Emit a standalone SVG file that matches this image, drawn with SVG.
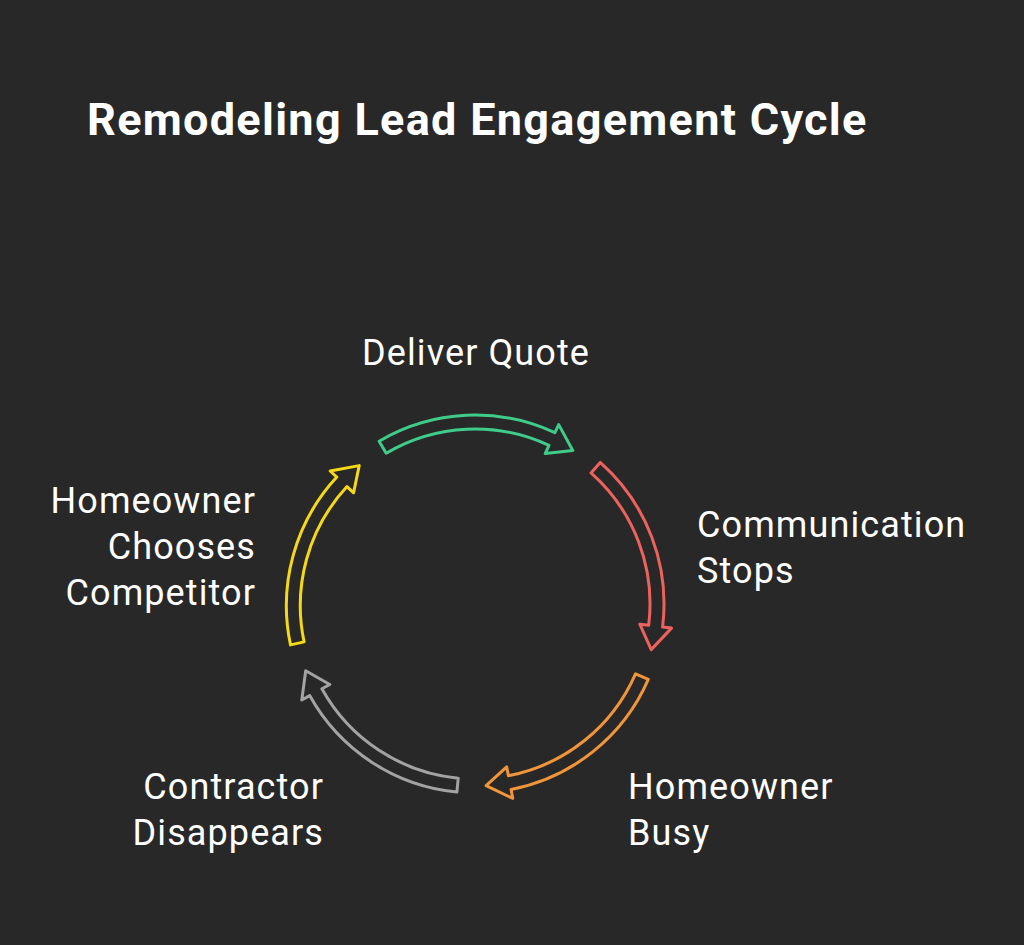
<svg xmlns="http://www.w3.org/2000/svg" width="1024" height="945" viewBox="0 0 1024 945">
<style>
.bg{fill:#282828}
.title{font-family:Roboto,"Liberation Sans",sans-serif;font-weight:700;font-size:45px;letter-spacing:1.3px;fill:#ffffff}
.lbl{font-family:Roboto,"Liberation Sans",sans-serif;font-size:36px;letter-spacing:1.1px;fill:#ffffff}
.arr{fill:none;stroke-width:3;stroke-linejoin:round}
</style>
<rect class="bg" x="0" y="0" width="1024" height="945"/>
<text class="title" x="87" y="135">Remodeling Lead Engagement Cycle</text>
<g id="connectors">
<path id="arrow-green" class="arr" stroke="#3FCC8A" d="M379.1,441.2 A189,189 0 0 1 554.9,432.7 L558.7,424.6 L572.8,450.5 L545.2,453.6 L549.0,445.4 A175,175 0 0 0 386.2,453.2 Z"/>
<path id="arrow-red" class="arr" stroke="#EE625E" d="M600.2,462.4 A189,189 0 0 1 662.6,627.0 L671.5,628.1 L651.2,649.6 L639.8,624.2 L648.7,625.3 A175,175 0 0 0 591.0,472.9 Z"/>
<path id="arrow-orange" class="arr" stroke="#F0953A" d="M648.3,679.4 A189,189 0 0 1 511.1,789.5 L512.8,798.4 L486.1,785.7 L506.7,766.9 L508.4,775.8 A175,175 0 0 0 635.5,673.8 Z"/>
<path id="arrow-gray" class="arr" stroke="#A3A3A3" d="M456.9,792.1 A189,189 0 0 1 309.7,695.6 L301.8,700.0 L305.7,670.7 L329.8,684.5 L321.9,688.8 A175,175 0 0 0 458.2,778.2 Z"/>
<path id="arrow-yellow" class="arr" stroke="#F5D816" d="M290.5,644.9 A189,189 0 0 1 336.8,477.1 L330.2,471.0 L359.2,465.6 L353.6,492.8 L347.0,486.6 A175,175 0 0 0 304.1,641.9 Z"/>
</g>
<g id="node-deliver-quote"><text class="lbl" x="476" y="365" text-anchor="middle">Deliver Quote</text></g>
<g id="node-communication-stops"><text class="lbl" x="697" y="537">Communication</text><text class="lbl" x="697" y="583">Stops</text></g>
<g id="node-homeowner-busy"><text class="lbl" x="628" y="799">Homeowner</text><text class="lbl" x="628" y="845">Busy</text></g>
<g id="node-contractor-disappears"><text class="lbl" x="324" y="799" text-anchor="end">Contractor</text><text class="lbl" x="324" y="845" text-anchor="end">Disappears</text></g>
<g id="node-homeowner-chooses-competitor"><text class="lbl" x="256" y="513" text-anchor="end">Homeowner</text><text class="lbl" x="256" y="559" text-anchor="end">Chooses</text><text class="lbl" x="256" y="605" text-anchor="end">Competitor</text></g>
</svg>
